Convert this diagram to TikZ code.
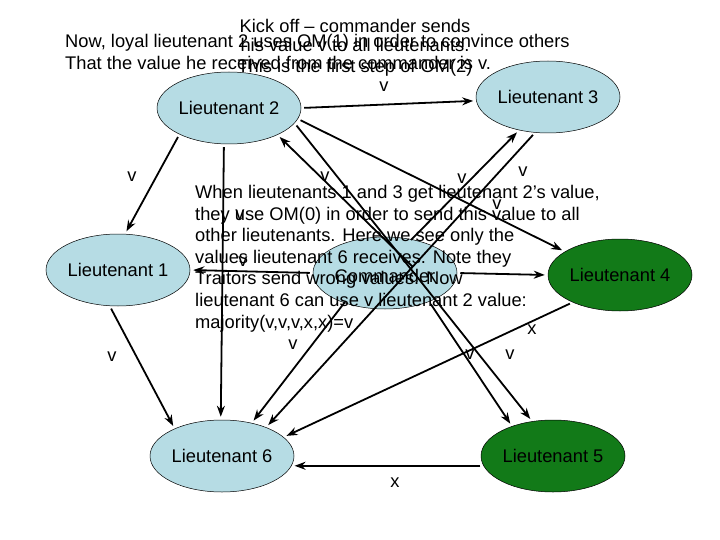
\documentclass[tikz,border=0pt]{standalone}
\usepackage{fontspec}
\setmainfont{Liberation Sans}
\usetikzlibrary{shapes.geometric,arrows.meta}
\definecolor{lb}{RGB}{182,220,228}
\definecolor{gr}{RGB}{18,122,24}
\begin{document}
\begin{tikzpicture}[x=1pt,y=-1pt,font=\fontsize{18.3}{21.6}\selectfont,
  ell/.style={ellipse,draw=black,line width=0.5pt,fill=lb,minimum width=144pt,minimum height=72pt,inner sep=0pt},
  gell/.style={ell,fill=gr},
  arr/.style={line width=1.8pt,-{Stealth[length=11pt,width=8pt]},shorten <=3pt,shorten >=3pt},
  lab/.style={inner sep=0pt}]
\useasboundingbox[fill=white] (0,0) rectangle (720,540);
\node[ell] (L2) at (229,108) {Lieutenant 2};
\node[ell] (L3) at (548,97) {Lieutenant 3};
\node[ell] (L1) at (118,270) {Lieutenant 1};
\node[ell] (C) at (385,273) {};
\node[gell] (L4) at (620,275) {Lieutenant 4};
\node[ell] (L6) at (222,456) {Lieutenant 6};
\node[gell] (L5) at (553,456) {Lieutenant 5};
\coordinate (cx) at (413,267);
\coordinate (cy) at (411,240);
\coordinate (cz) at (345,302);
\draw[arr] (L2.0) -- (L3.183);
\draw[arr] (L2.208) -- (L1.79);
\draw[arr,shorten <=0pt] (cx) -- (L2.331);
\draw[arr] (L2.-13) -- (L5.121);
\draw[arr] (C.-33) -- (L5.144);
\draw[arr] (L2.-9) -- (L4.157);
\draw[arr] (L3.250) -- (L6.33);
\draw[arr,shorten <=0pt] (cy) -- (L3.229);
\draw[arr,shorten <=0pt] (cz) -- (L6.48);
\draw[arr] (L2.262) -- (L6.92);
\draw[arr] (C.180) -- (L1.0);
\draw[arr] (C.0) -- (L4.180);
\draw[arr] (L4.210) -- (L6.17);
\draw[arr] (L5.188) -- (L6.352);
\draw[arr] (L1.257) -- (L6.150);
\node[lab] (cmd) at (385,276) {Commander};
\node[lab] (t1a) at (355,26) {Kick off -- commander sends};
\node[lab] (t1b) at (355,45) {his value v to all lieutenants.};
\node[lab] (t1c) at (355,68) {This is the first step of OM(2)};
\node[lab,anchor=west] (t2a) at (65,43) {Now, loyal lieutenant 2 uses OM(1) in order to convince others};
\node[lab,anchor=west] (t2b) at (65,63) {That the value he received from the commander is v.};
\node[lab,align=left,anchor=north west] (t3) at (195,185) {When lieutenants 1 and 3 get lieutenant 2’s value,\\they use OM(0) in order to send this value to all\\other lieutenants. Here we see only the\\values lieutenant 6 receives. Note they\\Traitors send wrong values. Now\\lieutenant 6 can use v lieutenant 2 value:\\majority(v,v,v,x,x)=v};
\foreach \p in {(384,87),(132,177),(325,177),(462,179),(523,172),(497,205),(240,215),(243,262),(293,345),(470,355),(510,355),(112,357)}
  \node[lab] at \p {v};
\node[lab] at (532,330) {x};
\node[lab] at (395,483) {x};
\end{tikzpicture}
\end{document}
